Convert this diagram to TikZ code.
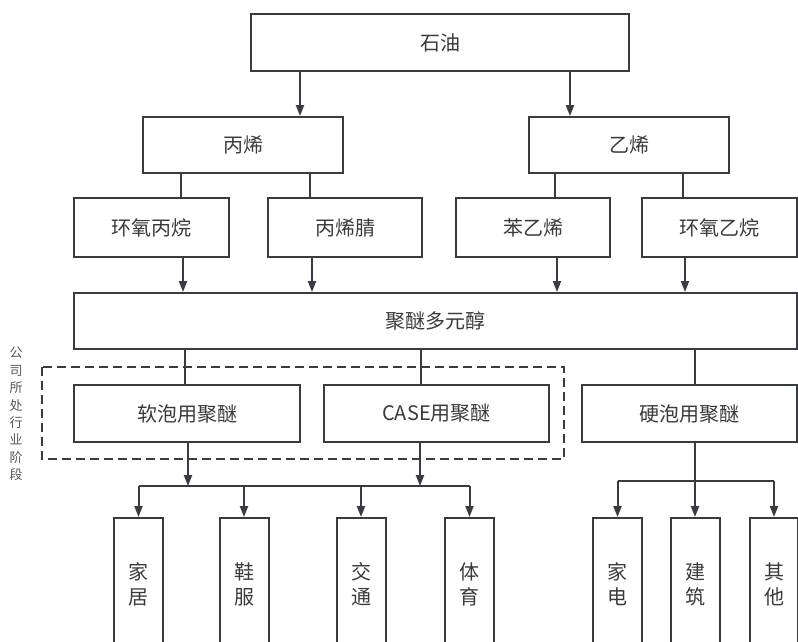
\documentclass[tikz,border=0pt]{standalone}
\usepackage{fontspec}
\newfontfamily\cjk{Noto Sans CJK SC}
\usetikzlibrary{arrows.meta}
\definecolor{ln}{RGB}{56,60,66}
\definecolor{tx}{RGB}{58,58,58}
\tikzset{
  box/.style={draw=ln, line width=2pt, fill=white, inner sep=0pt, text=tx,
    font=\cjk\fontsize{20}{25}\selectfont, align=center},
  vbox/.style={box, minimum width=49pt, minimum height=133pt},
  conn/.style={draw=ln, line width=2pt},
  arr/.style={conn, -{Triangle[width=8pt,length=11pt]}},
  grp/.style={draw=ln, line width=2pt, dash pattern=on 9pt off 5pt},
  sidelabel/.style={text=tx!85, font=\cjk\fontsize{13}{17.4}\selectfont, align=center, inner sep=0pt}
}
\begin{document}
\begin{tikzpicture}[x=1pt, y=-1pt]
\clip (0,0) rectangle (798,641);
\fill[white] (0,0) rectangle (798,641);

% x-position helpers
\foreach \n/\v in {a/300, b/570, c/181, d/310, e/555, f/683, g/183, h/312, i/557, j/685, k/185, l/421, m/188, n/420, o/695}
  \coordinate (x\n) at (\v,0);
\coordinate (busL) at (0,486);
\coordinate (busR) at (0,481);

% boxes
\node[box, minimum width=378pt, minimum height=57pt] (oil) at (440,42.5) {石油};
\node[box, minimum width=200pt, minimum height=56pt] (pp) at (243,145) {丙烯};
\node[box, minimum width=200pt, minimum height=56pt] (et) at (629,145) {乙烯};
\node[box, minimum width=155pt, minimum height=59pt] (po) at (151.5,227.5) {环氧丙烷};
\node[box, minimum width=154pt, minimum height=59pt] (an) at (345,227.5) {丙烯腈};
\node[box, minimum width=154pt, minimum height=59pt] (st) at (533,227.5) {苯乙烯};
\node[box, minimum width=155pt, minimum height=59pt] (eo) at (719.5,227.5) {环氧乙烷};
\node[box, minimum width=723pt, minimum height=56pt] (pol) at (435.5,321) {聚醚多元醇};

\draw[grp] (42,367) rectangle (564,459);
\node[sidelabel] (lab) at (16,414) {公\\司\\所\\处\\行\\业\\阶\\段};

\node[box, minimum width=226pt, minimum height=57pt] (soft) at (187,413.5) {软泡用聚醚};
\node[box, minimum width=225pt, minimum height=57pt] (case) at (436.5,413.5) {CASE用聚醚};
\node[box, minimum width=215pt, minimum height=57pt] (hard) at (689.5,413.5) {硬泡用聚醚};

\node[vbox] (home) at (138.5,584.5) {家\\居};
\node[vbox] (shoe) at (244,584.5) {鞋\\服};
\node[vbox] (trans) at (361,584.5) {交\\通};
\node[vbox] (sport) at (469.5,584.5) {体\\育};
\node[vbox] (appl) at (617.5,584.5) {家\\电};
\node[vbox] (bld) at (695,584.5) {建\\筑};
\node[vbox, minimum width=48pt] (oth) at (774,584.5) {其\\他};

% connectors
\draw[arr] (oil.south -| xa) -- (pp.north -| xa);
\draw[arr] (oil.south -| xb) -- (et.north -| xb);
\draw[conn] (pp.south -| xc) -- (po.north -| xc);
\draw[conn] (pp.south -| xd) -- (an.north -| xd);
\draw[conn] (et.south -| xe) -- (st.north -| xe);
\draw[conn] (et.south -| xf) -- (eo.north -| xf);
\draw[arr] (po.south -| xg) -- (pol.north -| xg);
\draw[arr] (an.south -| xh) -- (pol.north -| xh);
\draw[arr] (st.south -| xi) -- (pol.north -| xi);
\draw[arr] (eo.south -| xj) -- (pol.north -| xj);
\draw[conn] (pol.south -| xk) -- (soft.north -| xk);
\draw[conn] (pol.south -| xl) -- (case.north -| xl);
\draw[conn] (pol.south -| xo) -- (hard.north -| xo);

\draw[arr] (soft.south -| xm) -- (xm |- busL);
\draw[arr] (case.south -| xn) -- (xn |- busL);
\draw[conn] (home.north |- busL) -- (sport.north |- busL);
\foreach \b in {home, shoe, trans, sport}
  \draw[arr] (\b.north |- busL) -- (\b.north);

\draw[arr] (hard.south -| bld.north) -- (bld.north);
\draw[conn] (appl.north |- busR) -- (oth.north |- busR);
\draw[arr] (appl.north |- busR) -- (appl.north);
\draw[arr] (oth.north |- busR) -- (oth.north);
\end{tikzpicture}
\end{document}
